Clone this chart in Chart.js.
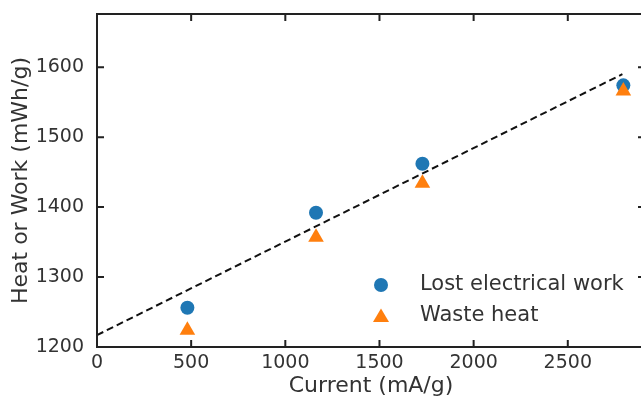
<!DOCTYPE html>
<html>
<head>
<meta charset="utf-8">
<script src="https://cdn.jsdelivr.net/npm/chart.js@4"></script>
<style>
  html, body { margin: 0; padding: 0; background: #fff; overflow: hidden; }
  #wrap { width: 654px; height: 400px; }
</style>
</head>
<body>
<div id="wrap"><canvas id="chart" width="654" height="400"></canvas></div>
<script>
// Data
const currents = [480, 1163, 1728, 2795];
const lostWork = [1256, 1392, 1462, 1574];
const wasteHeat = [1224, 1357, 1434, 1566];
const fitX = [0, 2790];
const fitY = [1217, 1590];
const xTicks = [0, 500, 1000, 1500, 2000, 2500];
const yTicks = [1200, 1300, 1400, 1500, 1600];

const textColor = '#333';
const axisColor = '#222';
const fontFamily = '"DejaVu Sans", sans-serif';

const pts = (xs, ys) => xs.map((x, i) => ({ x: x, y: ys[i] }));

// Box round the plot with inward ticks on all four sides
const frame = {
    id: 'frame',
    afterDraw(chart) {
        const { ctx, chartArea: a, scales } = chart;
        const len = 7;
        ctx.save();
        ctx.strokeStyle = axisColor;
        ctx.lineWidth = 2;
        ctx.beginPath();
        xTicks.forEach(v => {
            const px = scales.x.getPixelForValue(v);
            ctx.moveTo(px, a.bottom); ctx.lineTo(px, a.bottom - len);
            ctx.moveTo(px, a.top); ctx.lineTo(px, a.top + len);
        });
        yTicks.forEach(v => {
            const py = scales.y.getPixelForValue(v);
            ctx.moveTo(a.left, py); ctx.lineTo(a.left + len, py);
            ctx.moveTo(a.right, py); ctx.lineTo(a.right - len, py);
        });
        ctx.stroke();
        ctx.strokeRect(a.left, a.top, a.right - a.left, a.bottom - a.top);
        ctx.restore();
    }
};

// Legend inside the lower right corner
const innerLegend = {
    id: 'innerLegend',
    afterDraw(chart) {
        const { ctx, chartArea: a } = chart;
        const mx = a.right - 264;
        const tx = a.right - 225;
        const rows = [a.bottom - 62, a.bottom - 31];
        ctx.save();
        ctx.fillStyle = '#1f77b4';
        ctx.beginPath();
        ctx.arc(mx, rows[0], 7, 0, Math.PI * 2);
        ctx.fill();
        ctx.fillStyle = '#ff7f0e';
        ctx.beginPath();
        ctx.moveTo(mx, rows[1] - 7.5);
        ctx.lineTo(mx + 8, rows[1] + 6);
        ctx.lineTo(mx - 8, rows[1] + 6);
        ctx.closePath();
        ctx.fill();
        ctx.fillStyle = textColor;
        ctx.font = '21px ' + fontFamily;
        ctx.textBaseline = 'middle';
        ctx.fillText('Lost electrical work', tx, rows[0]);
        ctx.fillText('Waste heat', tx, rows[1]);
        ctx.restore();
    }
};

const ctx = document.getElementById('chart').getContext('2d');
const chart = new Chart(ctx, {
    type: 'scatter',
    data: {
        datasets: [
            {
                label: 'Waste heat',
                data: pts(currents, wasteHeat),
                pointStyle: 'triangle',
                pointRadius: 9,
                backgroundColor: '#ff7f0e',
                borderWidth: 0,
                order: 1
            },
            {
                label: 'Lost electrical work',
                data: pts(currents, lostWork),
                pointStyle: 'circle',
                pointRadius: 7,
                backgroundColor: '#1f77b4',
                borderWidth: 0,
                order: 2
            },
            {
                type: 'line',
                label: 'Fit',
                data: pts(fitX, fitY),
                borderColor: '#111',
                borderWidth: 2,
                borderDash: [7, 4],
                pointRadius: 0,
                fill: false,
                order: 3
            }
        ]
    },
    options: {
        responsive: false,
        animation: false,
        layout: { padding: { top: 14, right: 1, bottom: 0, left: 0 } },
        plugins: {
            legend: { display: false },
            tooltip: { enabled: false }
        },
        scales: {
            x: {
                type: 'linear',
                min: 0,
                max: 2910,
                afterBuildTicks: scale => { scale.ticks = xTicks.map(v => ({ value: v })); },
                afterFit: scale => {
                    scale.height = 53;
                    scale.paddingLeft = 0;
                    scale.paddingRight = 0;
                },
                grid: { display: false, drawTicks: false },
                border: { display: false },
                ticks: {
                    color: textColor,
                    padding: 5,
                    font: { family: fontFamily, size: 19 },
                    callback: v => String(v)
                },
                title: {
                    display: true,
                    text: 'Current (mA/g)',
                    color: textColor,
                    padding: { top: 0, bottom: 1 },
                    font: { family: fontFamily, size: 22 }
                }
            },
            y: {
                type: 'linear',
                min: 1200,
                max: 1676,
                afterBuildTicks: scale => { scale.ticks = yTicks.map(v => ({ value: v })); },
                afterFit: scale => {
                    scale.width = 97;
                    scale.paddingTop = 0;
                    scale.paddingBottom = 0;
                },
                grid: { display: false, drawTicks: false },
                border: { display: false },
                ticks: {
                    color: textColor,
                    padding: 13,
                    font: { family: fontFamily, size: 19 },
                    callback: v => String(v)
                },
                title: {
                    display: true,
                    text: 'Heat or Work (mWh/g)',
                    color: textColor,
                    padding: { top: 8, bottom: 0 },
                    font: { family: fontFamily, size: 22 }
                }
            }
        }
    },
    plugins: [frame, innerLegend]
});
</script>
</body>
</html>
